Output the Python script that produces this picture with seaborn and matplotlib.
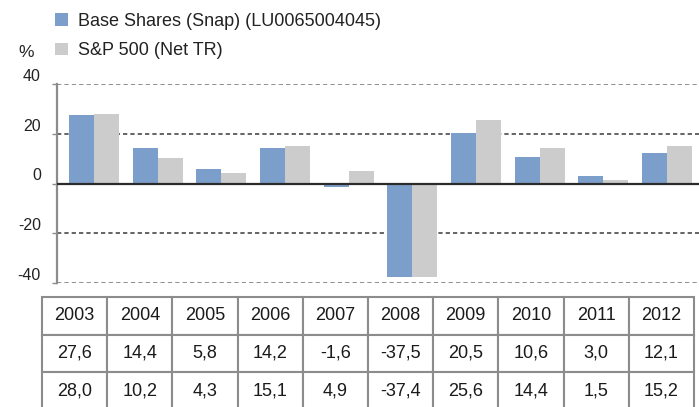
import pandas as pd
import seaborn as sns
import matplotlib.pyplot as plt

# Chart data
years = ["2003", "2004", "2005", "2006", "2007", "2008", "2009", "2010", "2011", "2012"]
base_shares = [27.6, 14.4, 5.8, 14.2, -1.6, -37.5, 20.5, 10.6, 3.0, 12.1]
sp500 = [28.0, 10.2, 4.3, 15.1, 4.9, -37.4, 25.6, 14.4, 1.5, 15.2]
series_names = ["Base Shares (Snap) (LU0065004045)", "S&P 500 (Net TR)"]
colors = ["#7b9fca", "#cccccc"]
y_ticks = [-40, -20, 0, 20, 40]

df = pd.DataFrame({
    "Year": years * 2,
    "Return": base_shares + sp500,
    "Series": [series_names[0]] * len(years) + [series_names[1]] * len(years),
})

sns.set_theme(style="white")
plt.rcParams['font.family'] = ['Liberation Sans', 'DejaVu Sans']
plt.rcParams['axes.unicode_minus'] = False

W, H = 699, 407
fig = plt.figure(figsize=(W / 100, H / 100), dpi=100)
ax = fig.add_axes([57 / W, (H - 283) / H, (W - 57) / W, 199 / H])

sns.barplot(data=df, x="Year", y="Return", hue="Series", palette=colors,
            width=0.785, saturation=1, linewidth=0, ax=ax, zorder=2)

ax.set_ylim(-40, 40)
ax.set_xlim(-0.581, 9.502)
ax.set_yticks(y_ticks)
ax.set_xticks([])
ax.set_xlabel("")
ax.set_ylabel("")

# gridlines
for v in y_ticks:
    if v == 0:
        ax.axhline(v, color="#2b2b2b", lw=1.6, zorder=3)
    elif abs(v) == 40:
        ax.axhline(v, color="#8f8f8f", lw=1.4, ls=(0, (2.2, 1.6)), zorder=1)
    else:
        ax.axhline(v, color="#3a3a3a", lw=1.1, ls=(0, (2.8, 2.0)), zorder=1)

for s in ["top", "right", "bottom"]:
    ax.spines[s].set_visible(False)
ax.spines["left"].set_color("#8c8c8c")
ax.spines["left"].set_linewidth(1.6)
ax.tick_params(axis="y", left=True, length=3.6, width=1, color="#8c8c8c",
               labelsize=11.5, labelcolor="#222222", pad=8)
for lab in ax.get_yticklabels():
    lab.set_verticalalignment("bottom")

# legend
handles, labels = ax.get_legend_handles_labels()
ax.get_legend().remove()
fig.legend(handles, labels, loc="upper left", bbox_to_anchor=(55 / W, 1 - 13 / H),
           frameon=False, fontsize=13, handlelength=0.72, handleheight=0.72,
           handletextpad=0.55, labelspacing=0.68, borderpad=0, borderaxespad=0,
           labelcolor="#222222")
fig.text(18 / W, 1 - 57 / H, "%", fontsize=12.5, color="#222222", va="baseline")

# data table
tax = fig.add_axes([9 / W, (H - 410) / H, 685 / W, 113 / H])
tax.axis("off")
fmt = lambda v: f"{v:.1f}".replace(".", ",")
cell_text = [[""] + years,
             [""] + [fmt(v) for v in base_shares],
             [""] + [fmt(v) for v in sp500]]
col_w = [33] + [65.2] * len(years)
tot = sum(col_w)
table = tax.table(cellText=cell_text, cellLoc="center", bbox=[0, 0, 1, 1],
                  colWidths=[w / tot for w in col_w])
table.auto_set_font_size(False)
table.set_fontsize(13)
for (r, c), cell in table.get_celld().items():
    cell.set_edgecolor("#8c8c8c")
    cell.set_linewidth(1.5)
    cell.get_text().set_color("#1a1a1a")
    if c == 0:
        cell.visible_edges = ""
        if r > 0:
            cell.set_facecolor(colors[r - 1])

fig.savefig("out.png", dpi=100)
